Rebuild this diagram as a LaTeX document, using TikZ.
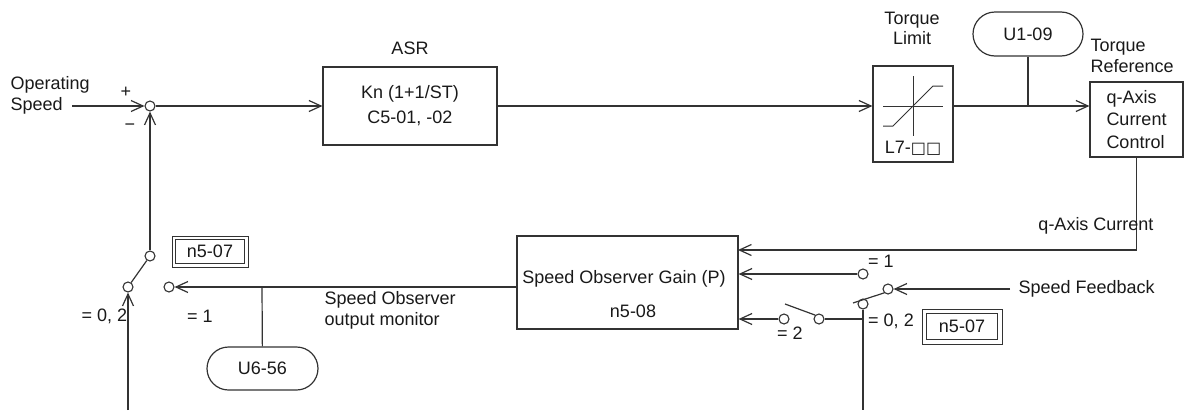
\documentclass[tikz,border=0pt]{standalone}
\usepackage{fontspec}
\setmainfont{Liberation Sans}
\newfontfamily\dejavu{DejaVu Sans}
\usetikzlibrary{arrows.meta,shapes.misc}
\begin{document}
\begin{tikzpicture}[x=1pt,y=-1pt, line width=1.2pt, color=black!80,
  arr/.style={-{Straight Barb[length=12pt,width=11pt]}},
  cont/.style={circle, draw, fill=white, inner sep=0pt, minimum size=10pt, line width=1.1pt},
  lbl/.style={font=\fontsize{18}{21}\selectfont, text=black!90, inner sep=0pt},
  blk/.style={draw, line width=1.2pt, rectangle, inner sep=0pt, font=\fontsize{18}{21}\selectfont, text=black!90},
  stad/.style={draw, line width=1.2pt, rounded rectangle, inner sep=0pt, font=\fontsize{18}{21}\selectfont, text=black!90},
  dbox/.style={draw, line width=1pt, rectangle, inner sep=0pt, font=\fontsize{18}{21}\selectfont, text=black!90}
]
\useasboundingbox (0,0) rectangle (1184,410);

% top row
\node[cont] (sum) at (150,106) {};
\coordinate (opin) at (72,106);
\node[lbl, align=left, anchor=west] (optxt) at (10,95) {Operating\\Speed};
\node[lbl] (plus) at (126,92) {+};
\node[lbl] (minus) at (130,127) {−};

\node[blk, minimum width=174pt, minimum height=78pt, align=center,
      font=\fontsize{18}{25}\selectfont] (asr) at (410,106) {Kn (1+1/ST)\\C5-01, -02};
\node[lbl] (asrt) at (410,48) {ASR};

\node[blk, minimum width=80pt, minimum height=96pt] (tl) at (913,114) {};
\node[lbl] (tlt) at (912,30) {\begin{tabular}{@{}c@{}}Torque\\[-1pt]Limit\end{tabular}};
\node[lbl] (tlp) at (913,148) {L7-{\dejavu\fontsize{16}{18}\selectfont □□}};
\draw[line width=1pt] (883,106) -- (943,106);
\draw[line width=1pt] (913,76) -- (913,136);
\draw[line width=1pt] (883,126) -- (893,126) -- (933,86) -- (943,86);

\node[stad, minimum width=110pt, minimum height=44pt] (u109) at (1028,34) {U1-09};
\node[blk, minimum width=93pt, minimum height=75pt, align=left,
      font=\fontsize{18}{22.5}\selectfont] (qax) at (1136.5,119.5) {q-Axis\\Current\\Control};
\node[lbl, align=left, anchor=west] (trt) at (1090,56) {Torque\\Reference};

\draw[arr] (opin) -- (sum);
\draw[arr] (sum) -- (asr.west);
\draw[arr] (asr.east) -- (tl.west |- asr);
\draw[arr] (tl.east |- asr) -- (qax.west |- asr);
\draw (u109) -- (u109 |- asr);

% observer
\node[blk, minimum width=221pt, minimum height=93pt] (obs) at (627.5,282.5) {};
\node[lbl] (obst) at (624,279) {Speed Observer Gain (P)};
\node[lbl] (obsp) at (633,311) {n5-08};

\coordinate (qin) at (738,250);
\draw[arr] (qax.south) |- (qin);
\node[lbl] (qct) at (1096,226) {q-Axis Current};

% left switch
\node[cont] (s1p) at (150,256) {};
\node[cont] (s1a) at (128,287) {};
\node[cont] (s1b) at (169,287) {};
\coordinate (bot1) at (128,410);
\draw (s1p) -- (s1a);
\draw[arr] (s1p) -- (sum);
\draw[arr] (bot1) -- (s1a);
\draw[arr] (obs.west |- s1b) -- (s1b);
\coordinate (br) at (262,287);
\node[stad, minimum width=111pt, minimum height=43pt] (u656) at (262.5,368.5) {U6-56};
\draw (br) -- (u656);
\node[lbl] (l02a) at (104.5,316) {= 0, 2};
\node[lbl] (l1a) at (200,316) {= 1};
\node[dbox, minimum width=76pt, minimum height=31pt] (n57a) at (210,251.5) {n5-07};
\draw[line width=1pt] ([shift={(4,4)}]n57a.north west) rectangle ([shift={(-4,-4)}]n57a.south east);
\node[lbl, align=left, anchor=west] (somt) at (324,310.5) {Speed Observer\\output monitor};

% right switches
\node[cont] (s2p) at (888,289) {};
\node[cont] (s2a) at (863,274) {};
\node[cont] (s2b) at (863,304) {};
\coordinate (sfb) at (1010,289);
\coordinate (bl2) at (853,303);
\draw[arr] (sfb) -- (s2p);
\node[lbl, anchor=west] (sft) at (1018,289) {Speed Feedback};
\draw (s2p.south west) -- (bl2);
\draw[arr] (s2a) -- (s2a -| obs.east);
\coordinate (bot2) at (863,410);
\draw (s2b) -- (bot2);
\coordinate (j2) at (863,319);
\node[cont] (s3p) at (819,319) {};
\node[cont] (s3a) at (784,319) {};
\coordinate (bl3) at (785,304);
\draw (j2) -- (s3p);
\draw (s3p.north west) -- (bl3);
\draw[arr] (s3a) -- (s3a -| obs.east);
\node[lbl] (l1b) at (881,261) {= 1};
\node[lbl] (l02b) at (891,321) {= 0, 2};
\node[lbl] (l2b) at (790,333) {= 2};
\node[dbox, minimum width=80pt, minimum height=35pt] (n57b) at (962,326.5) {n5-07};
\draw[line width=1pt] ([shift={(5,5)}]n57b.north west) rectangle ([shift={(-5,-5)}]n57b.south east);
\end{tikzpicture}
\end{document}
